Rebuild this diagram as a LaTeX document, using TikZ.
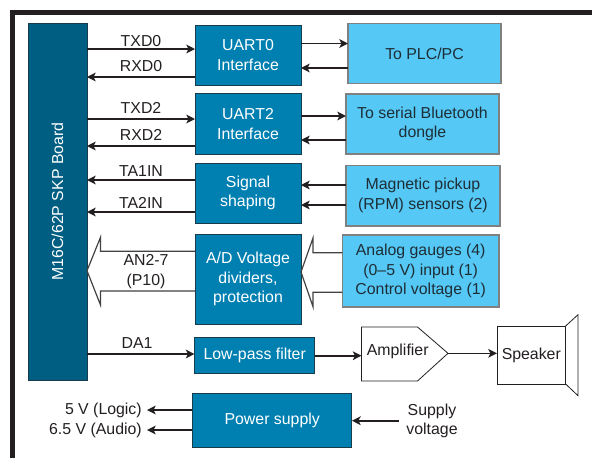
\documentclass[tikz,border=0pt]{standalone}
\usepackage{fontspec}
\setmainfont{Liberation Sans}
\usetikzlibrary{arrows.meta}
\definecolor{tablero}{HTML}{005E82}
\definecolor{bloque}{HTML}{0080B1}
\definecolor{claro}{HTML}{55C8F6}
\definecolor{tinta}{HTML}{231F20}
\tikzset{
  etiqueta/.style={text=tinta, inner sep=0pt, align=center, font=\fontsize{11.9}{14.8}\selectfont},
  bloqueo/.style={etiqueta, draw=tinta!70!bloque, line width=0.7pt, fill=bloque, text=white, outer sep=0pt},
  externo/.style={etiqueta, draw=gray, line width=0.9pt, fill=claro, text=tinta!85!bloque, outer sep=0pt},
  blanco/.style={etiqueta, draw=tinta, line width=0.6pt, fill=white, outer sep=0pt},
  senal/.style={draw=tinta, line width=1.2pt, -{Stealth[length=6.5pt,width=6.5pt,inset=1.6pt]}},
  ancho/.style={draw=tinta!85, line width=0.9pt, line join=miter}
}
\begin{document}
\begin{tikzpicture}[x=0.75pt,y=-0.75pt]
        \useasboundingbox (0,0) rectangle (592,458);

        % Marco
        \draw[tinta, line width=4pt] (12.8,458) -- (12.8,12.5) -- (592,12.5);

        % Tablero
        \node[bloqueo, fill=tablero, minimum width=59*0.75pt, minimum height=357*0.75pt] (board) at (57.5,201.5) {\rotatebox{90}{M16C/62P SKP Board}};

        % Bloques centrales
        \node[bloqueo, minimum width=106*0.75pt, minimum height=60.5*0.75pt] (uart0) at (248,55.3) {UART0\\Interface};
        \node[bloqueo, minimum width=106*0.75pt, minimum height=60.5*0.75pt] (uart2) at (248,124.2) {UART2\\Interface};
        \node[bloqueo, minimum width=106*0.75pt, minimum height=60*0.75pt] (shaping) at (248,193) {Signal\\shaping};
        \node[bloqueo, minimum width=106*0.75pt, minimum height=90*0.75pt] (divider) at (248,279) {A/D Voltage\\dividers,\\protection};
        \node[bloqueo, minimum width=120.5*0.75pt, minimum height=36*0.75pt] (filter) at (254.7,355) {Low-pass filter};
        \node[bloqueo, minimum width=159.5*0.75pt, minimum height=54*0.75pt] (power) at (272.2,420) {Power supply};

        % Bloques externos
        \node[externo, minimum width=153*0.75pt, minimum height=60*0.75pt] (plc) at (424.5,53.5) {To PLC/PC};
        \node[externo, minimum width=153*0.75pt, minimum height=60*0.75pt] (dongle) at (422.5,124) {To serial Bluetooth\\dongle};
        \node[externo, minimum width=154*0.75pt, minimum height=60.5*0.75pt] (pickup) at (423,195.7) {Magnetic pickup\\(RPM) sensors (2)};
        \node[externo, minimum width=156.5*0.75pt, minimum height=72*0.75pt] (gauges) at (420.7,271) {Analog gauges (4)\\(0--5 V) input (1)\\Control voltage (1)};

        % Amplificador y altavoz
        \draw[tinta, line width=0.6pt, fill=white] (361.5,327) -- (417.5,327) -- (448,353.3) -- (417.5,381) -- (361.5,381) -- cycle;
        \node[etiqueta] (amp) at (397.7,351) {Amplifier};
        \coordinate (ampin) at (361.5,355.7);
        \coordinate (ampout) at (448,353.3);
        \node[blanco, minimum width=68.7*0.75pt, minimum height=58*0.75pt] (speaker) at (531.3,355) {Speaker};
        \draw[tinta, line width=0.6pt] (speaker.north east) -- (578,314.7) -- (578,395.7) -- (speaker.south east);

        % Flechas del tablero
        \foreach \y in {49} \draw[senal] (board.east |- 0,\y) -- (uart0.west |- 0,\y);
        \foreach \y in {119} \draw[senal] (board.east |- 0,\y) -- (uart2.west |- 0,\y);
        \draw[senal] (uart0.west |- 0,77) -- (board.east |- 0,77);
        \draw[senal] (uart2.west |- 0,146) -- (board.east |- 0,146);
        \draw[senal] (shaping.west |- 0,180) -- (board.east |- 0,180);
        \draw[senal] (shaping.west |- 0,212) -- (board.east |- 0,212);
        \draw[senal] (board.east |- 0,354) -- (filter.west |- 0,354);

        % Flechas de la derecha
        \draw[senal] (uart0.east |- 0,43.5) -- (plc.west |- 0,43.5);
        \draw[senal] (plc.west |- 0,68) -- (uart0.east |- 0,68);
        \draw[senal] (uart2.east |- 0,116) -- (dongle.west |- 0,116);
        \draw[senal] (dongle.west |- 0,140) -- (uart2.east |- 0,140);
        \draw[senal] (pickup.west |- 0,185) -- (shaping.east |- 0,185);
        \draw[senal] (pickup.west |- 0,205) -- (shaping.east |- 0,205);
        \draw[senal] (filter.east |- 0,355.7) -- (ampin);
        \draw[senal] (ampout) -- (speaker.west |- ampout);

        % Flechas anchas
        \draw[ancho] (divider.west |- 0,251.3) -- (100.5,251.3) -- (100.5,237.3) -- (board.east |- 0,270.7) -- (100.5,305) -- (100.5,291) -- (divider.west |- 0,291);
        \draw[ancho] (gauges.west |- 0,252.7) -- (313,252.7) -- (313,238) -- (divider.east |- 0,272) -- (313,306.7) -- (313,292.3) -- (gauges.west |- 0,292.3);

        % Etiquetas
        \node[etiqueta] (txd0) at (141,41) {TXD0};
        \node[etiqueta] (rxd0) at (141,66.5) {RXD0};
        \node[etiqueta] (txd2) at (141,108) {TXD2};
        \node[etiqueta] (rxd2) at (141,135) {RXD2};
        \node[etiqueta] (ta1in) at (141,171) {TA1IN};
        \node[etiqueta] (ta2in) at (141,203) {TA2IN};
        \node[etiqueta] (an) at (146,271.5) {AN2-7\\(P10)};
        \node[etiqueta] (da1) at (137,343) {DA1};

        % Alimentacion
        \node[etiqueta, anchor=east] (logic) at (142,410) {5 V (Logic)};
        \node[etiqueta, anchor=east] (audio) at (142,430) {6.5 V (Audio)};
        \node[etiqueta] (supply) at (432,421) {Supply\\voltage};
        \draw[senal] (power.west |- logic) -- (147,410);
        \draw[senal] (power.west |- audio) -- (147,430);
        \draw[senal] (399,420.7) -- (power.east |- 0,420.7);
    \end{tikzpicture}
\end{document}
